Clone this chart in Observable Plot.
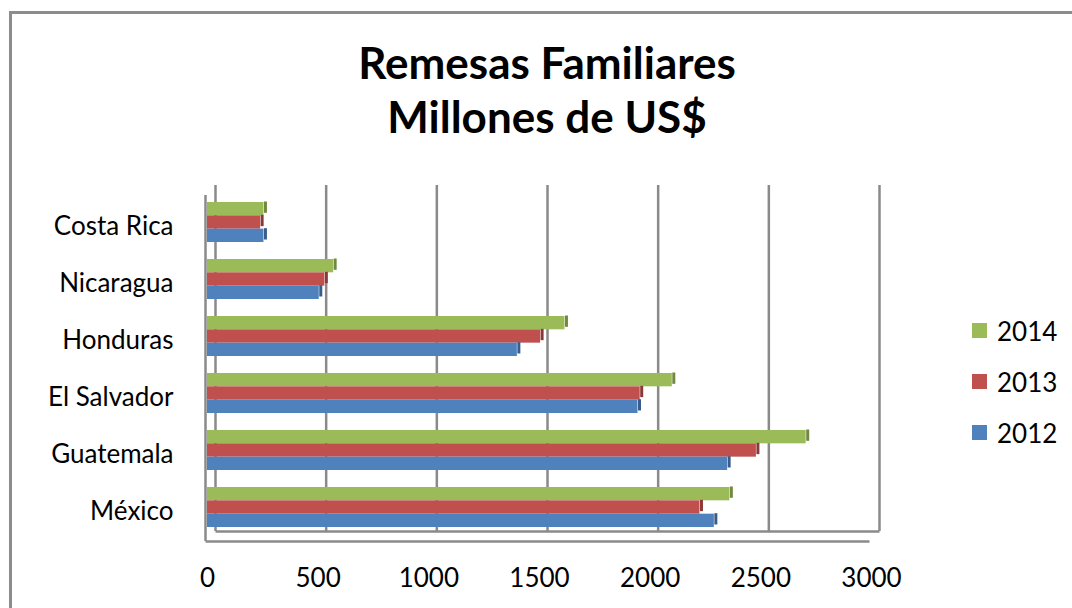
<!DOCTYPE html>
<html><head><meta charset="utf-8">
<script src="https://cdn.jsdelivr.net/npm/d3@7"></script>
<script src="https://cdn.jsdelivr.net/npm/@observablehq/plot@0.6"></script>
<style>
body{margin:0;background:#fff;font-family:Lato,sans-serif}
#wrap{position:relative;width:1072px;height:608px;overflow:hidden;background:#fff}
#border{position:absolute;left:9px;top:11px;width:1100px;height:700px;border-left:3px solid #8c8c8c;border-top:3px solid #8c8c8c}
#chart{position:absolute;left:0;top:0}
#title{position:absolute;left:0;top:35px;width:1094px;text-align:center;font-weight:bold;font-size:44px;line-height:54px;color:#000}
#legend{position:absolute;left:972px;top:305px}
.row{display:flex;align-items:center;height:51px;font-size:26px;color:#000}
.sw{width:15px;height:15px;margin-right:10px}
</style></head>
<body>
<div id="wrap">
  <div id="border"></div>
  <div id="chart"></div>
  <div id="title"></div>
  <div id="legend"></div>
</div>
<script>
const titleLines = ["Remesas Familiares", "Millones de US$"];
const countries = ["Costa Rica", "Nicaragua", "Honduras", "El Salvador", "Guatemala", "México"];
const years = ["2014", "2013", "2012"];
const values2014 = [255, 570, 1615, 2100, 2705, 2360];
const values2013 = [240, 530, 1505, 1955, 2480, 2225];
const values2012 = [255, 505, 1400, 1945, 2350, 2290];
const colors = ["#9BBB59", "#C0504D", "#4F81BD"];
const sideColors = ["#71893F", "#8C3836", "#385D8A"];
const xTicks = [0, 500, 1000, 1500, 2000, 2500, 3000];

const seriesValues = [values2014, values2013, values2012];
const rows = [];
years.forEach((yr, i) => countries.forEach((c, j) => rows.push({country: c, year: yr, value: seriesValues[i][j]})));

document.getElementById("title").innerHTML = titleLines.map(t => `<div>${t}</div>`).join("");
document.getElementById("legend").innerHTML = years.map((yr, i) =>
  `<div class="row"><div class="sw" style="background:${colors[i]}"></div><span>${yr}</span></div>`).join("");

const H = 608, mTop = 191, mBottom = 71;
const step = (H - mTop - mBottom) / countries.length;
const bw = step * (1 - 0.306);
const h = bw / 3;

const barMarks = [];
years.forEach((yr, i) => {
  const d = rows.filter(r => r.year === yr);
  barMarks.push(Plot.barX(d, {y: "country", x: "value", fill: colors[i], insetTop: i * h, insetBottom: (2 - i) * h}));
  barMarks.push(Plot.tickX(d, {y: "country", x: "value", stroke: sideColors[i], strokeWidth: 3, dx: 1.5, dy: -1.5, insetTop: i * h + 1, insetBottom: (2 - i) * h + 1}));
});

const last = [countries[countries.length - 1]];
const grey = "#8a8a8a";

const chart = Plot.plot({
  width: 1072, height: H,
  marginLeft: 207, marginRight: 201, marginTop: mTop, marginBottom: mBottom,
  style: {fontFamily: "Lato", fontSize: "26px", background: "transparent", color: "#000"},
  x: {domain: [0, 3000], ticks: xTicks, tickSize: 0, tickPadding: 31, tickFormat: d => String(d), label: null},
  y: {domain: countries, paddingInner: 0.306, paddingOuter: 0.153, axis: null},
  marks: [
    Plot.ruleX(xTicks, {dx: 8, dy: -6, stroke: grey, strokeWidth: 2.5}),
    Plot.ruleX([0], {dx: -2, dy: 4, stroke: grey, strokeWidth: 2.5}),
    Plot.link(last, {x1: () => 0, x2: () => 3000, y1: d => d, y2: d => d, dx: 8, dy: 24, stroke: grey, strokeWidth: 2.5}),
    Plot.link(last, {x1: () => 0, x2: () => 3000, y1: d => d, y2: d => d, dx: -2, dy: 34, stroke: grey, strokeWidth: 2.5}),
    ...barMarks,
    Plot.text(countries, {y: d => d, text: d => d, frameAnchor: "left", textAnchor: "end", dx: -34, dy: 4, fontSize: 26, fill: "#000"})
  ]
});
document.getElementById("chart").appendChild(chart);
</script>
</body></html>
